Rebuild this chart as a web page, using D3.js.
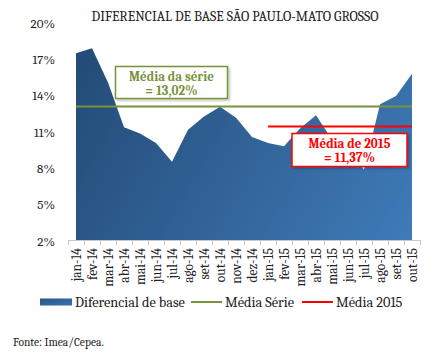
<!DOCTYPE html>
<html><head><meta charset="utf-8">
<script src="https://cdn.jsdelivr.net/npm/d3@7"></script>
<style>
html,body{margin:0;padding:0;background:#fff;}
svg{display:block;}
</style></head>
<body>
<svg id="c" width="437" height="357"></svg>
<script>
const categories = ["jan-14","fev-14","mar-14","abr-14","mai-14","jun-14","jul-14","ago-14","set-14","out-14","nov-14","dez-14",
  "jan-15","fev-15","mar-15","abr-15","mai-15","jun-15","jul-15","ago-15","set-15","out-15"];
const diferencial = [17.43,17.84,15.0,11.3,10.8,10.0,8.47,11.1,12.2,13.0,12.1,10.5,
  10.0,9.75,11.2,12.3,10.3,9.6,7.8,13.2,13.9,15.72];
const mediaSerie = 13.02;
const media2015 = 11.37;
const media2015Start = "jan-15";
const yTicks = [2,5,8,11,14,17,20];
const title = "DIFERENCIAL DE BASE SÃO PAULO-MATO GROSSO";
const legendLabels = ["Diferencial de base","Média Série","Média 2015"];
const source = "Fonte: Imea/Cepea.";

const FONT = "'Cambria','Liberation Serif','DejaVu Serif',serif";
const svg = d3.select("#c");
const x = d3.scaleBand().domain(categories).range([68,420]).paddingInner(0).paddingOuter(0);
const cx = c => x(c) + x.bandwidth()/2;
const y = d3.scaleLinear().domain([2,20]).range([240,22]);

const defs = svg.append("defs");
const g1 = defs.append("linearGradient").attr("id","areaGrad")
  .attr("gradientUnits","userSpaceOnUse").attr("x1",76).attr("y1",45).attr("x2",412).attr("y2",240);
g1.append("stop").attr("offset","0%").attr("stop-color","#234a75");
g1.append("stop").attr("offset","100%").attr("stop-color","#3f7bb9");
const g2 = defs.append("linearGradient").attr("id","legGrad").attr("x1",0).attr("y1",0).attr("x2",1).attr("y2",1);
g2.append("stop").attr("offset","0%").attr("stop-color","#2a5688");
g2.append("stop").attr("offset","100%").attr("stop-color","#3b72ad");
const sh = defs.append("filter").attr("id","shadow").attr("x","-10%").attr("y","-10%").attr("width","130%").attr("height","140%");
sh.append("feDropShadow").attr("dx",1.5).attr("dy",1.5).attr("stdDeviation",1.2).attr("flood-color","#000").attr("flood-opacity",0.25);

// title
svg.append("text").attr("x",235).attr("y",21).attr("text-anchor","middle").style("font-family",FONT)
  .attr("font-size",13.8).attr("fill","#222").text(title);

// area
const area = d3.area().x((d,i)=>cx(categories[i])).y0(y(2)).y1(d=>y(d));
svg.append("path").datum(diferencial).attr("d",area).attr("fill","url(#areaGrad)");

// y axis labels
const yAxis = d3.axisLeft(y).tickValues(yTicks).tickSize(0).tickPadding(0).tickFormat(d=>d+"%");
const ya = svg.append("g").attr("transform","translate(55,0)").call(yAxis);
ya.select(".domain").remove();
ya.selectAll("text").attr("font-size",13).style("font-family",FONT).attr("fill","#222").attr("dy","0.4em");

// x axis
const xa = svg.append("g").attr("transform","translate(0,240)");
xa.append("line").attr("x1",68).attr("x2",420).attr("y1",0.5).attr("y2",0.5).attr("stroke","#c8c8c8");
const bounds = categories.map(c=>x(c)).concat([x(categories[categories.length-1])+x.bandwidth()]);
xa.selectAll("line.tk").data(bounds).enter().append("line").attr("class","tk")
  .attr("x1",d=>Math.round(d)+0.5).attr("x2",d=>Math.round(d)+0.5).attr("y1",0).attr("y2",5).attr("stroke","#c8c8c8");
xa.selectAll("text").data(categories).enter().append("text")
  .attr("transform",d=>`translate(${cx(d)+4.5},8) rotate(-90)`).style("font-family",FONT)
  .attr("text-anchor","end").attr("font-size",13.5).attr("fill","#222").text(d=>d);

// media serie line
svg.append("line").attr("x1",cx(categories[0])).attr("x2",cx(categories[categories.length-1]))
  .attr("y1",y(mediaSerie)).attr("y2",y(mediaSerie)).attr("stroke","#77933c").attr("stroke-width",2);
// media 2015 line
svg.append("line").attr("x1",cx(media2015Start)).attr("x2",cx(categories[categories.length-1]))
  .attr("y1",y(media2015)).attr("y2",y(media2015)).attr("stroke","#ff0000").attr("stroke-width",2);

// annotation boxes
function box(x0,y0,w,h,color,lines){
  svg.append("rect").attr("x",x0).attr("y",y0).attr("width",w).attr("height",h)
    .attr("fill","#fff").attr("stroke",color).attr("stroke-width",1.5).attr("filter","url(#shadow)");
  lines.forEach((t,i)=>{
    svg.append("text").attr("x",x0+w/2).attr("y",y0+14+i*14).attr("text-anchor","middle").style("font-family",FONT)
      .attr("font-size",13).attr("font-weight","bold").attr("fill",color).text(t);
  });
}
box(115.5,66.5,112,32,"#77933c",["Média da série","= "+mediaSerie.toFixed(2).replace(".",",")+"%"]);
box(292,133.5,115,33,"#ff0000",["Média de 2015","= "+media2015.toFixed(2).replace(".",",")+"%"]);

// legend
const ly = 302;
svg.append("rect").attr("x",40).attr("y",ly-3.5).attr("width",32).attr("height",7).attr("fill","url(#legGrad)");
svg.append("text").attr("x",75).attr("y",ly+4.5).style("font-family",FONT).attr("font-size",14.3).attr("fill","#222").text(legendLabels[0]);
svg.append("line").attr("x1",191).attr("x2",222).attr("y1",ly).attr("y2",ly).attr("stroke","#77933c").attr("stroke-width",2);
svg.append("text").attr("x",225).attr("y",ly+4.5).style("font-family",FONT).attr("font-size",14.3).attr("fill","#222").text(legendLabels[1]);
svg.append("line").attr("x1",302).attr("x2",333).attr("y1",ly).attr("y2",ly).attr("stroke","#ff0000").attr("stroke-width",2);
svg.append("text").attr("x",336).attr("y",ly+4.5).style("font-family",FONT).attr("font-size",14.3).attr("fill","#222").text(legendLabels[2]);

// source
svg.append("text").attr("x",13).attr("y",346).style("font-family",FONT).attr("font-size",11.5).attr("fill","#222").text(source);
</script>
</body></html>
